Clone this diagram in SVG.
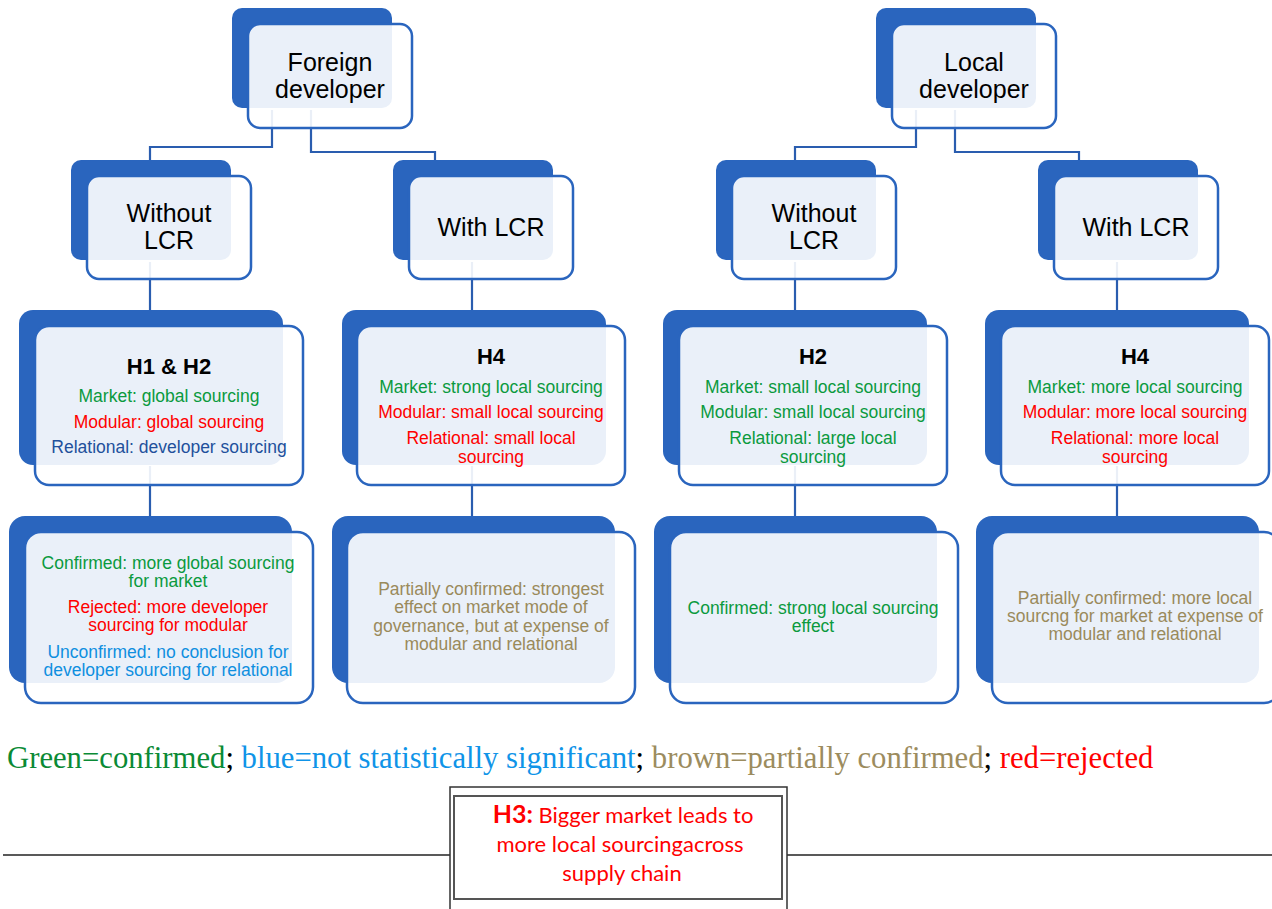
<svg xmlns="http://www.w3.org/2000/svg" width="1272" height="909" viewBox="0 0 1272 909">
<style>
.bk{fill:#2A65BE}
.fr{fill:#ffffff;fill-opacity:0.9;stroke:#2A65BE;stroke-width:2.5}
.cn{fill:none;stroke:#2A5DAF;stroke-width:2.2}
text{font-family:"Liberation Sans",Arial,sans-serif;text-anchor:middle}
.t1{font-size:25px;fill:#000}
.tt{font-size:22px;font-weight:bold;fill:#000}
.b{font-size:17.5px}
.g{fill:#0B9A3E}.r{fill:#FF0000}.db{fill:#22509C}.lb{fill:#0F8FE0}.br{fill:#9A8A5B}
.lg{font-family:"Liberation Serif","Times New Roman",serif;font-size:30.7px;text-anchor:start}
.h3{font-family:Lato,"Open Sans",sans-serif;font-size:22px;fill:#FF0000}
</style>
<rect width="1272" height="909" fill="#ffffff"/>
<g id="connectors">
<path class="cn" d="M150,160 V147 H272 V110"/>
<path class="cn" d="M311,110 V152 H435 V160"/>
<path class="cn" d="M795,160 V147 H916 V110"/>
<path class="cn" d="M955,110 V152 H1079 V160"/>
<path class="cn" d="M150,262 V310"/>
<path class="cn" d="M472,262 V310"/>
<path class="cn" d="M795,262 V310"/>
<path class="cn" d="M1117,262 V310"/>
<path class="cn" d="M150,466 V516"/>
<path class="cn" d="M472,466 V516"/>
<path class="cn" d="M795,466 V516"/>
<path class="cn" d="M1117,466 V516"/>
</g>
<g id="foreign">
<rect class="bk" x="232" y="8" width="160" height="100" rx="10"/>
<rect class="fr" x="248" y="24" width="164" height="104" rx="12"/>
<text class="t1" x="330" y="71">Foreign</text>
<text class="t1" x="330" y="98">developer</text>
</g>
<g id="local">
<rect class="bk" x="876" y="8" width="160" height="100" rx="10"/>
<rect class="fr" x="892" y="24" width="164" height="104" rx="12"/>
<text class="t1" x="974" y="71">Local</text>
<text class="t1" x="974" y="98">developer</text>
</g>
<g id="f-without">
<rect class="bk" x="71" y="160" width="160" height="100" rx="10"/>
<rect class="fr" x="87" y="176" width="164" height="103" rx="12"/>
<text class="t1" x="169" y="222">Without</text>
<text class="t1" x="169" y="249">LCR</text>
</g>
<g id="f-with">
<rect class="bk" x="393" y="160" width="160" height="100" rx="10"/>
<rect class="fr" x="409" y="176" width="164" height="103" rx="12"/>
<text class="t1" x="491" y="236">With LCR</text>
</g>
<g id="l-without">
<rect class="bk" x="716" y="160" width="160" height="100" rx="10"/>
<rect class="fr" x="732" y="176" width="164" height="103" rx="12"/>
<text class="t1" x="814" y="222">Without</text>
<text class="t1" x="814" y="249">LCR</text>
</g>
<g id="l-with">
<rect class="bk" x="1038" y="160" width="160" height="100" rx="10"/>
<rect class="fr" x="1054" y="176" width="164" height="103" rx="12"/>
<text class="t1" x="1136" y="236">With LCR</text>
</g>
<g id="h1h2">
<rect class="bk" x="19" y="310" width="264" height="155" rx="14"/>
<rect class="fr" x="35" y="326" width="268" height="159" rx="14"/>
<text class="tt" x="169" y="374">H1 &amp; H2</text>
<text class="b g" x="169" y="402">Market: global sourcing</text>
<text class="b r" x="169" y="428">Modular: global sourcing</text>
<text class="b db" x="169" y="453">Relational: developer sourcing</text>
</g>
<g id="h4-f">
<rect class="bk" x="342" y="310" width="264" height="155" rx="14"/>
<rect class="fr" x="357" y="326" width="268" height="159" rx="14"/>
<text class="tt" x="491" y="364">H4</text>
<text class="b g" x="491" y="393">Market: strong local sourcing</text>
<text class="b r" x="491" y="418">Modular: small local sourcing</text>
<text class="b r" x="491" y="444">Relational: small local</text>
<text class="b r" x="491" y="463">sourcing</text>
</g>
<g id="h2-l">
<rect class="bk" x="663" y="310" width="264" height="155" rx="14"/>
<rect class="fr" x="679" y="326" width="268" height="159" rx="14"/>
<text class="tt" x="813" y="364">H2</text>
<text class="b g" x="813" y="393">Market: small local sourcing</text>
<text class="b g" x="813" y="418">Modular: small local sourcing</text>
<text class="b g" x="813" y="444">Relational: large local</text>
<text class="b g" x="813" y="463">sourcing</text>
</g>
<g id="h4-l">
<rect class="bk" x="985" y="310" width="264" height="155" rx="14"/>
<rect class="fr" x="1001" y="326" width="268" height="159" rx="14"/>
<text class="tt" x="1135" y="364">H4</text>
<text class="b g" x="1135" y="393">Market: more local sourcing</text>
<text class="b r" x="1135" y="418">Modular: more local sourcing</text>
<text class="b r" x="1135" y="444">Relational: more local</text>
<text class="b r" x="1135" y="463">sourcing</text>
</g>
<g id="res-1">
<rect class="bk" x="9" y="516" width="283" height="167" rx="16"/>
<rect class="fr" x="25" y="532" width="288" height="171" rx="16"/>
<text class="b g" x="168" y="569">Confirmed: more global sourcing</text>
<text class="b g" x="168" y="587">for market</text>
<text class="b r" x="168" y="613">Rejected: more developer</text>
<text class="b r" x="168" y="631">sourcing for modular</text>
<text class="b lb" x="168" y="658">Unconfirmed: no conclusion for</text>
<text class="b lb" x="168" y="676">developer sourcing for relational</text>
</g>
<g id="res-2">
<rect class="bk" x="332" y="516" width="283" height="167" rx="16"/>
<rect class="fr" x="347" y="532" width="288" height="171" rx="16"/>
<text class="b br" x="491" y="595">Partially confirmed: strongest</text>
<text class="b br" x="491" y="613">effect on market mode of</text>
<text class="b br" x="491" y="632">governance, but at expense of</text>
<text class="b br" x="491" y="650">modular and relational</text>
</g>
<g id="res-3">
<rect class="bk" x="654" y="516" width="283" height="167" rx="16"/>
<rect class="fr" x="670" y="532" width="288" height="171" rx="16"/>
<text class="b g" x="813" y="614">Confirmed: strong local sourcing</text>
<text class="b g" x="813" y="632">effect</text>
</g>
<g id="res-4">
<rect class="bk" x="976" y="516" width="283" height="167" rx="16"/>
<rect class="fr" x="992" y="532" width="288" height="171" rx="16"/>
<text class="b br" x="1135" y="604">Partially confirmed: more local</text>
<text class="b br" x="1135" y="622">sourcng for market at expense of</text>
<text class="b br" x="1135" y="640">modular and relational</text>
</g>
<g id="legend">
<text class="lg" x="7" y="768"><tspan fill="#0A8A35">Green=confirmed</tspan><tspan fill="#000">; </tspan><tspan fill="#0F94E8">blue=not statistically significant</tspan><tspan fill="#000">; </tspan><tspan fill="#9C8C5E">brown=partially confirmed</tspan><tspan fill="#000">; </tspan><tspan fill="#FF0000">red=rejected</tspan></text>
</g>
<g id="h3">
<line x1="3" y1="855" x2="450" y2="855" stroke="#222" stroke-width="1.5"/>
<line x1="787" y1="855" x2="1272" y2="855" stroke="#222" stroke-width="1.5"/>
<path d="M450,909 V787 H787 V909" fill="#fff" stroke="#333" stroke-width="1.5"/>
<rect x="454" y="796" width="328" height="103" fill="#fff" stroke="#555" stroke-width="2"/>
<text class="h3" x="623" y="823"><tspan font-weight="bold" font-size="25px">H3:</tspan> Bigger market leads to</text>
<text class="h3" x="620" y="852">more local sourcingacross</text>
<text class="h3" x="622" y="881">supply chain</text>
</g>
</svg>
